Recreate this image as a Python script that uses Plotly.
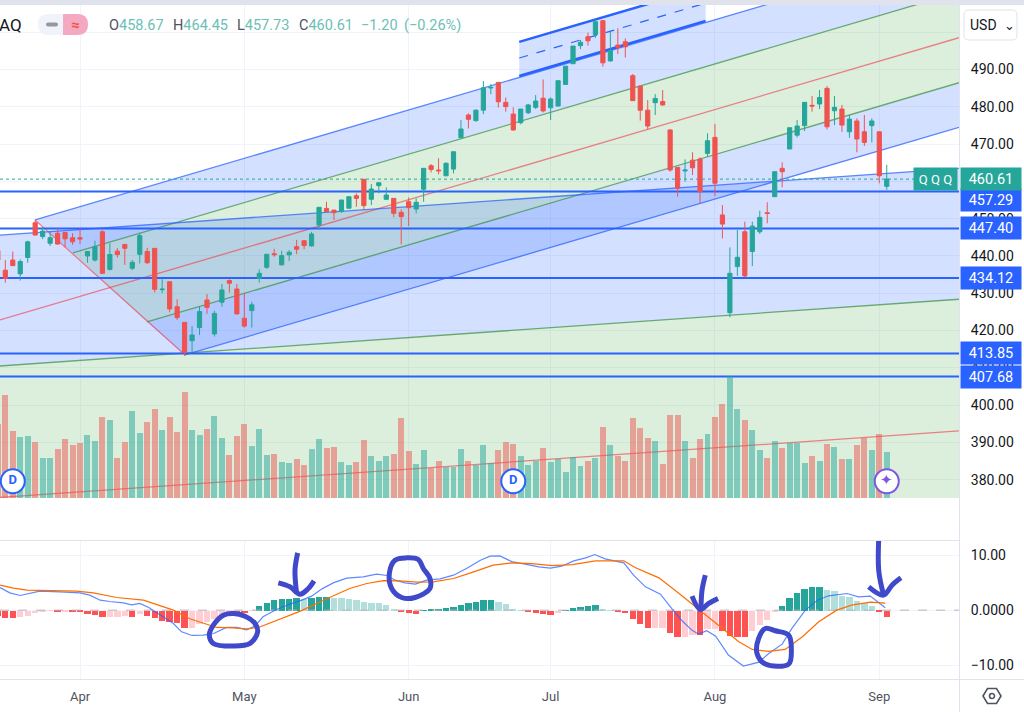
import plotly.graph_objects as go

# trading day index, 0 = 1 Apr
bar_x = list(range(-11, 109))

opens = [441.4, 436.2, 438.9, 435.2, 439.6, 448.9, 445.2, 443.4, 446.1, 446.3, 444.9, 444.9,
         440.0, 438.9, 446.5, 436.4, 441.3, 443.1, 436.7, 440.45, 441.2, 442.05, 430.95, 433.1,
         426.4, 422.2, 417.3, 420.8, 428.2, 419.1, 427.6, 433.4, 431.15, 423.3, 425.35, 434.0,
         436.95, 440.6, 437.6, 440.3, 442.5, 444.1, 442.7, 448.3, 452.75, 452.3, 451.9, 452.8,
         456.15, 460.55, 455.2, 458.85, 455.2, 455.45, 451.7, 454.55, 452.6, 457.9, 464.2, 463.05,
         461.5, 463.3, 471.7, 477.8, 476.3, 479.1, 485.05, 486.55, 481.2, 478.05, 475.75, 478.4,
         479.85, 482.3, 479.75, 480.2, 486.0, 491.55, 496.4, 498.8, 499.4, 503.1, 492.3, 496.55,
         497.45, 488.35, 485.55, 479.1, 481.1, 481.4, 473.8, 463.75, 462.8, 465.7, 466.0, 467.5,
         471.8, 451.0, 424.8, 437.15, 446.5, 441.2, 446.5, 451.6, 455.9, 463.5, 468.7, 472.4,
         474.95, 480.4, 480.75, 484.95, 478.95, 479.4, 473.3, 476.2, 473.3, 474.95, 473.3, 458.67]
highs = [442.0, 438.9, 441.2, 439.1, 444.1, 449.6, 447.7, 446.5, 447.4, 446.3, 446.1, 447.4,
         441.3, 444.1, 447.0, 443.4, 442.1, 443.1, 438.9, 446.25, 442.2, 442.05, 433.8, 433.1,
         428.4, 422.2, 421.2, 426.4, 429.8, 425.3, 432.5, 433.75, 432.5, 430.0, 427.75, 436.4,
         440.45, 441.9, 441.4, 441.6, 444.3, 444.1, 446.5, 453.05, 454.55, 452.3, 455.0, 455.9,
         456.8, 460.55, 459.3, 459.65, 458.4, 455.45, 452.5, 455.7, 455.45, 463.5, 464.65, 466.2,
         465.1, 467.95, 476.45, 478.25, 479.3, 486.9, 486.1, 486.55, 482.5, 479.85, 479.4, 480.75,
         483.15, 487.35, 482.5, 487.0, 490.9, 496.3, 497.9, 499.9, 503.45, 503.3, 500.4, 501.05,
         498.35, 488.8, 485.55, 481.8, 483.4, 484.5, 473.95, 463.75, 465.9, 467.8, 466.45, 472.9,
         475.4, 453.65, 442.3, 446.95, 449.2, 449.2, 452.15, 454.4, 462.6, 465.1, 474.4, 476.45,
         481.2, 482.9, 484.5, 485.55, 482.9, 480.5, 477.8, 476.9, 477.8, 476.9, 473.3, 464.45]
lows = [438.5, 432.85, 437.4, 433.4, 438.2, 445.6, 444.5, 442.7, 443.0, 442.3, 443.0, 443.2,
        438.2, 438.5, 435.3, 436.1, 439.6, 437.6, 436.2, 438.0, 437.85, 430.2, 430.0, 424.9,
        422.85, 413.2, 414.1, 418.8, 424.45, 418.4, 426.4, 430.2, 424.45, 420.8, 420.8, 432.85,
        436.5, 439.8, 437.6, 438.65, 440.5, 441.8, 442.5, 447.15, 451.9, 449.65, 451.6, 452.8,
        453.2, 452.3, 453.65, 456.8, 455.0, 450.4, 443.1, 448.0, 451.4, 454.55, 462.4, 461.9,
        461.5, 462.15, 471.7, 474.2, 476.0, 478.05, 483.4, 479.8, 478.7, 473.6, 475.3, 478.05,
        479.4, 478.5, 476.45, 480.2, 486.0, 491.55, 495.5, 496.4, 498.5, 490.75, 492.1, 494.15,
        493.2, 481.65, 476.3, 473.95, 477.8, 480.3, 462.6, 455.9, 459.9, 461.7, 454.1, 466.6,
        456.1, 444.7, 423.55, 434.65, 434.3, 437.3, 445.9, 448.75, 455.9, 458.4, 468.6, 471.8,
        473.5, 478.7, 479.4, 473.95, 475.1, 473.3, 471.7, 467.8, 469.5, 470.45, 459.5, 457.73]
closes = [438.9, 433.99, 437.4, 438.5, 443.8, 445.6, 446.7, 444.9, 443.2, 444.6, 443.8, 444.55,
          441.2, 442.5, 435.35, 440.4, 440.4, 442.05, 438.3, 445.45, 438.2, 431.05, 431.1, 425.8,
          423.5, 414.1, 418.8, 425.1, 426.2, 424.6, 430.9, 432.7, 424.45, 421.2, 426.9, 435.35,
          440.45, 440.35, 440.1, 441.0, 441.8, 442.8, 445.9, 453.05, 451.9, 451.6, 455.0, 455.9,
          455.45, 453.5, 457.95, 459.65, 456.35, 451.45, 450.55, 452.95, 454.4, 463.5, 463.2, 462.85,
          464.85, 467.95, 474.05, 476.65, 479.1, 485.1, 485.2, 481.35, 480.05, 473.8, 479.4, 480.5,
          481.55, 478.9, 482.1, 487.0, 490.9, 496.3, 497.3, 497.7, 502.8, 491.8, 495.05, 495.95,
          496.1, 481.65, 479.1, 474.85, 482.25, 480.5, 463.05, 458.15, 463.05, 463.65, 457.25, 470.9,
          459.5, 448.55, 435.35, 439.65, 434.65, 448.0, 450.35, 451.4, 462.6, 462.6, 474.4, 474.85,
          481.2, 480.2, 482.5, 474.65, 479.85, 475.1, 476.7, 471.35, 470.45, 476.2, 461.5, 460.61]
volumes = [55.5, 77.25, 50.25, 45.5, 46.5, 42, 30.25, 30.25, 37, 44.25, 39.75, 41.25,
           47.25, 42.75, 61, 58.25, 30.25, 42, 65.5, 48.75, 56.75, 67, 51, 60.5,
           49.5, 79.25, 50.75, 47.25, 51.5, 61.25, 45, 32.5, 46.5, 55.25, 39, 51.5,
           32.5, 33, 27.25, 26.5, 29.5, 25, 36.75, 44.25, 37.5, 38.25, 26.75, 25,
           27.25, 43.5, 31.75, 28, 31.75, 33, 59.75, 35.5, 25.75, 36.25, 22.75, 28,
           23.5, 23.5, 37, 28, 24.5, 39.75, 26.5, 36, 42, 40.5, 31.75, 25,
           28, 37.5, 27.25, 29, 19.75, 31, 24.25, 28, 30.25, 53, 39.75, 31.75,
           28, 59.75, 52.25, 45, 42.75, 25.25, 62.5, 62.5, 42.75, 30.25, 44.25, 48,
           60.5, 70.25, 91.5, 67, 58.25, 51, 36.25, 30.25, 42.75, 37.5, 41, 41,
           26, 31.75, 28, 40.5, 38.25, 29.5, 29.5, 39.75, 45, 36.25, 48, 34.75]
macd_hist = [-1.0, -1.33, -1.39, -1.2, -0.9, -0.5, -0.18, -0.06, -0.3, -0.12, -0.3, -0.32,
             -0.66, -0.72, -1.2, -1.19, -1.18, -0.97, -1.09, -0.66, -0.9, -1.39, -1.81, -2.11,
             -2.3, -3.14, -3.13, -2.4, -2.1, -1.6, -1.0, -0.25, -0.38, -0.42, -0.05, 0.8,
             1.45, 1.87, 2.05, 2.1, 2.23, 2.17, 2.3, 2.54, 2.56, 2.3, 2.29, 2.17,
             2.0, 1.5, 1.45, 1.4, 1.03, 0.36, -0.18, -0.36, -0.66, 0.1, 0.36, 0.37,
             0.54, 0.72, 1.09, 1.45, 1.63, 2.0, 2.01, 1.63, 1.27, 0.3, 0.06, -0.3,
             -0.36, -0.66, -0.7, -0.4, 0.06, 0.5, 0.66, 0.9, 1.0, 0.36, 0.03, -0.3,
             -0.5, -1.5, -2.5, -3.14, -3.13, -3.12, -4.1, -4.83, -4.82, -4.4, -4.5, -3.4,
             -3.3, -3.7, -4.6, -4.7, -4.83, -3.74, -2.66, -1.63, -0.1, 0.9, 2.3, 3.26,
             3.93, 4.29, 4.3, 3.74, 3.62, 2.66, 2.54, 1.7, 1.33, 0.9, -0.18, -1.09]

macd_x = [-10.7, -9.4, -8.0, -6.7, -5.4, -2.7, 0, 1.3, 2.7, 4.0, 5.8, 6.9, 8.0, 9.2, 10.7, 12.5,
          13.6, 15.0, 16.5, 17.9, 19.6, 21.0, 22.3, 23.4, 24.5, 26.3, 28.1, 29.7, 31.0, 32.4, 33.9,
          35.7, 37.9, 39.7, 41.1, 42.2, 43.5, 44.9, 46.4, 48.2, 50.0, 51.8, 53.6, 54.9, 56.2, 57.8,
          59.6, 61.4, 63.0, 64.5, 66.1, 67.7, 68.9, 70.3, 72.8, 74.1, 75.7, 77.7, 79.3, 80.6, 81.9,
          82.8, 83.9, 85.1, 86.8, 88.8, 90.9, 92.2, 94.0, 95.3, 97.1, 98.7, 100.2, 102.7, 104.2,
          105.8, 107.8]
macd_line = [4.11, 3.14, 2.66, 3.02, 3.44, 3.32, 3.14, 2.72, 1.81, 1.57, 1.33, 0.97, 1.21, 0.48,
             -0.91, -2.42, -3.93, -4.59, -4.53, -4.23, -3.14, -3.14, -3.56, -2.9, -1.21, 0.12, 1.09,
             1.81, 2.54, 3.86, 4.95, 5.8, 6.04, 6.52, 6.28, 5.43, 4.95, 4.71, 5.43, 5.68, 6.34, 7.61,
             9.06, 9.78, 9.84, 8.8, 8.33, 7.85, 7.61, 7.97, 8.94, 9.48, 10.08, 9.3, 8.57, 6.34, 4.23,
             2.9, 0.12, -1.93, -3.62, -4.35, -3.74, -4.71, -8.15, -10.14, -9.42, -7.85, -6.16, -3.32,
             0, 1.81, 2.6, 3.02, 2.42, 2.54, 0.42]
signal_x = [-10.7, -8.9, -7.1, -4.9, -0.5, 1.8, 4.9, 8.5, 10.3, 12.5, 14.7, 17.0, 18.3, 20.5, 22.3,
            23.9, 26.3, 29.5, 32.6, 36.1, 38.4, 40.6, 42.8, 45.1, 47.3, 50.0, 52.7, 55.3, 57.8, 60.5,
            63.2, 65.9, 69.0, 72.8, 74.3, 77.5, 80.2, 82.8, 85.5, 88.2, 90.0, 92.2, 94.4, 96.7, 98.9,
            101.3, 103.3, 105.8, 107.8]
signal_line = [4.53, 3.99, 3.62, 3.56, 3.44, 3.14, 2.29, 1.81, 1.03, 0, -1.57, -2.66, -3.14, -3.2,
               -3.38, -3.14, -1.81, -0.18, 1.81, 3.93, 4.83, 5.37, 5.31, 5.07, 5.13, 5.74, 6.94, 8.15,
               8.57, 8.45, 8.09, 8.27, 8.94, 8.94, 7.73, 5.86, 3.02, 0.18, -2.72, -5.74, -7.13, -7.49,
               -7.13, -4.83, -2.11, 0, 0.91, 1.45, 1.27]

month_ticks = [0, 22, 44, 63, 85, 107]
month_labels = ['Apr', 'May', 'Jun', 'Jul', 'Aug', 'Sep']
price_ticks = [380, 390, 400, 410, 420, 430, 440, 450, 460, 470, 480, 490, 500]
price_labels = ['380.00', '390.00', '400.00', '410.00', '420.00', '430.00', '440.00', '450.00',
                '460.00', '470.00', '480.00', '490.00', '']
macd_ticks = [-10, 0, 10]
macd_labels = ['\u221210.00', '0.0000', '10.00']

level_prices = [457.29, 447.40, 434.12, 413.85, 407.68]
last_price = 460.61
dividend_x = [-9, 58]
dividend_y = [379.6, 379.6]
event_x = [108]
event_y = [379.6]

# drawings, as bar index / price
x_left, x_right = -10.71, 117.67
price_min, price_max = 375.1, 507.3
fork_top = ([-6.02, 117.67, 117.67, -0.94], [449.65, 522.6, 510.75, 440.8])
fork_up = ([-0.94, 117.67, 117.67, 4.02], [440.8, 510.75, 498.53, 431.55])
fork_down = ([4.02, 117.67, 117.67, 8.97], [431.55, 498.53, 486.46, 422.3])
fork_bottom = ([8.97, 117.67, 117.67, 14.06], [422.3, 486.46, 474.5, 413.46])
handle = ([-6.02, 14.06], [449.65, 413.46])
fork_median = ([-10.71, 117.67], [422.84, 498.53])
fan_top = ([x_left, x_right], [445.6, 463.5])
fan_mid = ([x_left, x_right], [410.5, 428.4])
fan_low = ([x_left, x_right], [375.25, 393.1])
channel_x = [58.8, 83.75]
channel_top = [497.4, 512.1]
channel_mid = [493.08, 507.8]
channel_low = [488.26, 503.0]

# hand drawn marks on the MACD pane, bar index / MACD value
circle_a = ([17.85, 17.31, 17.85, 20.53, 22.76, 23.78, 23.43, 22.09, 20.53, 19.19, 17.85],
            [-2.72, -4.53, -6.04, -6.52, -6.04, -3.93, -2.42, -1.09, -0.6, -0.91, -2.72])
circle_b = ([42.17, 41.41, 41.72, 43.06, 44.85, 46.85, 46.85, 45.96, 45.29, 43.73, 42.17],
            [9.06, 6.64, 3.93, 2.29, 2.29, 3.93, 5.74, 7.55, 9.18, 9.48, 9.06])
circle_c = ([90.85, 90.63, 91.75, 94.87, 95.23, 94.87, 93.08, 91.75, 90.85],
            [-5.13, -7.85, -9.78, -9.78, -7.25, -4.53, -3.74, -3.32, -5.13])
arrow_a = ([29.14, 28.78, 29.0, None, 26.55, 28.11, 29.45, 30.57, 31.33],
           [10.39, 7.25, 3.02, None, 4.95, 4.23, 2.9, 3.93, 5.31])
arrow_b = ([83.71, 83.27, 83.13, None, 81.93, 83.04, 84.16, 85.41],
           [6.34, 3.62, 0.12, None, 2.54, 0.12, 1.21, 2.11])
arrow_c = ([106.96, 106.92, 107.58, None, 105.58, 107.58, 108.7, 109.9],
           [14.0, 7.25, 2.72, None, 4.23, 2.72, 4.53, 5.86])

GREEN = '#26a69a'
RED = '#ef5350'
BLUE = '#2962ff'
GRID = '#f0f3fa'
BORDER = '#e0e3eb'
FILL_BLUE = 'rgba(41,98,255,0.2)'
FILL_GREEN = 'rgba(76,175,80,0.2)'
INK = '#3f49c9'
FONT = 'Roboto'

W, H = 1024, 712


def band(pts, color):
    return go.Scatter(x=pts[0], y=pts[1], mode='none', fill='toself', fillcolor=color,
                      hoverinfo='skip', showlegend=False, xaxis='x', yaxis='y')


def line(pts, color, width=1.3, dash='solid', axis='y', xaxis='x'):
    return go.Scatter(x=pts[0], y=pts[1], mode='lines', line=dict(color=color, width=width, dash=dash),
                      hoverinfo='skip', showlegend=False, xaxis=xaxis, yaxis=axis, cliponaxis=True)


def hist_color(i):
    prev = macd_hist[i - 1] if i else 0
    v = macd_hist[i]
    if v >= 0:
        return GREEN if v > prev else '#b2dfdb'
    return '#ff5252' if v < prev else '#ffcdd2'


fig = go.Figure()

for pts, color in [(fork_top, FILL_BLUE), (fork_up, FILL_GREEN), (fork_down, FILL_GREEN), (fork_bottom, FILL_BLUE)]:
    fig.add_trace(band(pts, color))
fig.add_trace(band(([x_left, x_right, x_right, x_left], fan_top[1] + fan_mid[1][::-1]), FILL_BLUE))
fig.add_trace(band(([x_left, x_right, x_right, x_left], fan_mid[1] + [price_min, price_min]), FILL_GREEN))
fig.add_trace(band(([channel_x[0], channel_x[1], channel_x[1], channel_x[0]],
                    [channel_top[0], channel_top[1], channel_low[1], channel_low[0]]), FILL_BLUE))

blue_line = 'rgba(41,98,255,0.75)'
green_line = 'rgba(56,142,60,0.7)'
red_line = 'rgba(242,54,69,0.6)'
fig.add_trace(line((fork_top[0][:2], fork_top[1][:2]), blue_line))
fig.add_trace(line((fork_up[0][:2], fork_up[1][:2]), green_line))
fig.add_trace(line(fork_median, red_line))
fig.add_trace(line((fork_bottom[0][:2], fork_bottom[1][:2]), green_line))
fig.add_trace(line(([fork_bottom[0][3], fork_bottom[0][2]], [fork_bottom[1][3], fork_bottom[1][2]]), blue_line))
fig.add_trace(line(handle, red_line))
fig.add_trace(line(fan_top, blue_line))
fig.add_trace(line(fan_mid, green_line))
fig.add_trace(line(fan_low, red_line))
fig.add_trace(line((channel_x, channel_top), BLUE, 2.5))
fig.add_trace(line((channel_x, channel_low), BLUE, 2.5))
fig.add_trace(line((channel_x, channel_mid), BLUE, 1.2, 'dash'))
fig.add_trace(line(([x_left, x_right], [last_price, last_price]), GREEN, 1, 'dot'))
for p in level_prices:
    fig.add_trace(line(([x_left, x_right], [p, p]), BLUE, 2))

fig.add_trace(go.Bar(x=bar_x, y=volumes, width=0.8, xaxis='x', yaxis='y2', showlegend=False,
                     marker=dict(color=[GREEN if c >= o else RED for o, c in zip(opens, closes)],
                                 opacity=0.5, line_width=0), hoverinfo='skip'))
fig.add_trace(go.Candlestick(x=bar_x, open=opens, high=highs, low=lows, close=closes,
                             xaxis='x', yaxis='y3', showlegend=False, whiskerwidth=0,
                             increasing=dict(line=dict(color=GREEN, width=1), fillcolor=GREEN),
                             decreasing=dict(line=dict(color=RED, width=1), fillcolor=RED)))
fig.add_trace(go.Scatter(x=dividend_x, y=dividend_y, mode='markers+text', text=['<b>D</b>', '<b>D</b>'],
                         textfont=dict(color=BLUE, size=13, family=FONT), textposition='middle center',
                         marker=dict(size=24, color='white', line=dict(color=BLUE, width=2)),
                         xaxis='x', yaxis='y3', showlegend=False, cliponaxis=False))
fig.add_trace(go.Scatter(x=event_x, y=event_y, mode='markers+text', text=['\u2726'],
                         textfont=dict(color='#7e57e0', size=15), textposition='middle center',
                         marker=dict(size=24, color='white', line=dict(color='#7e57e0', width=2)),
                         xaxis='x', yaxis='y3', showlegend=False, cliponaxis=False))

# MACD pane
fig.add_trace(line(([x_left, x_right], [0, 0]), '#b2b5be', 1, 'dash', 'y4', 'x2'))
fig.add_trace(go.Bar(x=bar_x, y=macd_hist, width=0.85, xaxis='x2', yaxis='y4', showlegend=False,
                     marker=dict(color=[hist_color(i) for i in range(len(macd_hist))], line_width=0),
                     hoverinfo='skip'))
fig.add_trace(line((macd_x, macd_line), 'rgba(41,98,255,0.75)', 1.2, 'solid', 'y4', 'x2'))
fig.add_trace(line((signal_x, signal_line), '#ff6d00', 1.2, 'solid', 'y4', 'x2'))
for mark in [circle_a, circle_b, circle_c, arrow_a, arrow_b, arrow_c]:
    t = line(mark, INK, 5, 'solid', 'y4', 'x2')
    t.update(cliponaxis=False, connectgaps=False)
    t.line.shape = 'spline'
    fig.add_trace(t)

domain_x = [0, 959 / W]
main_y = [(H - 498) / H, (H - 5) / H]
macd_y = [(H - 679.3) / H, (H - 540.5) / H]
tick_font = dict(family=FONT, size=14, color='#131722')
fig.update_layout(
    width=W, height=H, margin=dict(l=0, r=0, t=0, b=0),
    paper_bgcolor='white', plot_bgcolor='white', showlegend=False,
    boxgap=0.2, bargap=0,
    xaxis=dict(domain=domain_x, range=[x_left, x_right], tickvals=month_ticks, ticktext=[''] * 6,
               showgrid=True, gridcolor=GRID, zeroline=False, rangeslider=dict(visible=False),
               showline=False, ticks=''),
    yaxis=dict(domain=main_y, range=[price_min, price_max], side='right', anchor='x', tickvals=price_ticks,
               ticktext=price_labels, tickfont=tick_font, showgrid=True, gridcolor=GRID, zeroline=False,
               ticks='outside', ticklen=8, tickcolor='rgba(0,0,0,0)'),
    yaxis2=dict(domain=main_y, range=[0, 369.75], overlaying='y', visible=False),
    yaxis3=dict(domain=main_y, range=[price_min, price_max], overlaying='y', visible=False),
    xaxis2=dict(domain=domain_x, range=[x_left, x_right], anchor='y4', tickvals=month_ticks, ticktext=month_labels,
                tickfont=dict(family=FONT, size=13, color='#50535e'), showgrid=True, gridcolor=GRID,
                zeroline=False, ticks='outside', ticklen=5, tickcolor='rgba(0,0,0,0)'),
    yaxis4=dict(domain=macd_y, range=[-12.54, 12.63], anchor='x2', side='right', tickvals=macd_ticks,
                ticktext=macd_labels, tickfont=tick_font, showgrid=True, gridcolor=GRID, zeroline=False,
                ticks='outside', ticklen=8, tickcolor='rgba(0,0,0,0)'),
)


def paper_x(px):
    return px / W


def paper_y(py):
    return 1 - py / H


def frame(x0, y0, x1, y1, color=BORDER, width=1):
    fig.add_shape(type='line', xref='paper', yref='paper', x0=paper_x(x0), y0=paper_y(y0), x1=paper_x(x1),
                  y1=paper_y(y1), line=dict(color=color, width=width))


# top strip and pane borders
fig.add_shape(type='rect', xref='paper', yref='paper', x0=0, x1=1, y0=paper_y(5), y1=1,
              fillcolor=BORDER, line_width=0)
frame(0, 540.5, 959, 540.5)
frame(0, 679.5, 1024, 679.5)
frame(959.5, 5, 959.5, 712)


def rounded(x0, y0, x1, y1, r, **kw):
    # rounded box in paper pixels
    fx, fy = paper_x, paper_y
    path = (f'M {fx(x0 + r)} {fy(y0)} L {fx(x1 - r)} {fy(y0)} Q {fx(x1)} {fy(y0)} {fx(x1)} {fy(y0 + r)} '
            f'L {fx(x1)} {fy(y1 - r)} Q {fx(x1)} {fy(y1)} {fx(x1 - r)} {fy(y1)} '
            f'L {fx(x0 + r)} {fy(y1)} Q {fx(x0)} {fy(y1)} {fx(x0)} {fy(y1 - r)} '
            f'L {fx(x0)} {fy(y0 + r)} Q {fx(x0)} {fy(y0)} {fx(x0 + r)} {fy(y0)} Z')
    fig.add_shape(type='path', xref='paper', yref='paper', path=path, **kw)


# header pill
rounded(38, 14, 88, 35, 10, fillcolor='#f0f3fa', line_width=0)
fig.add_shape(type='path', xref='paper', yref='paper', line_width=0, fillcolor='#f5a9c0',
              path=(f'M {paper_x(63)} {paper_y(14)} L {paper_x(78)} {paper_y(14)} '
                    f'Q {paper_x(88)} {paper_y(14)} {paper_x(88)} {paper_y(24.5)} '
                    f'Q {paper_x(88)} {paper_y(35)} {paper_x(78)} {paper_y(35)} L {paper_x(63)} {paper_y(35)} Z'))
rounded(46, 22.5, 58, 26.5, 2, fillcolor='#9598a1', line_width=0)
# USD button
rounded(964, 10, 1017, 40, 5, fillcolor='white', line=dict(color=BORDER, width=1))


def note(px, py, text, size=14, color='#131722', anchor='left', **kw):
    fig.add_annotation(xref='paper', yref='paper', x=paper_x(px), y=paper_y(py), text=text, showarrow=False,
                       xanchor=anchor, yanchor='middle', font=dict(family=FONT, size=size, color=color), **kw)


def val(s):
    return f'<span style="color:#6cc0b6">{s}</span>'


note(-3, 24.5, 'AQ', size=17)
note(75, 24.5, '<b>\u2248</b>', size=15, color='#ef5350', anchor='center')
for px, letter, number in [(107, 'O', '458.67'), (171, 'H', '464.45'), (235, 'L', '457.73'), (297, 'C', '460.61')]:
    note(px, 25, letter + val(number), size=14.5, color='#50535e')
note(359, 25, val('\u22121.20'), size=14.5)
note(402, 25, val('(\u22120.26%)'), size=14.5)
note(968, 25.5, 'USD', size=14)
note(1009, 25.5, '\u2304', size=13, anchor='center')

# price tags on the axis, the 457.29 tag sits pushed below the last price tag
for p in level_prices + [last_price]:
    fig.add_annotation(xref='paper', yref='y', x=paper_x(960), y=p, text=f'{p:.2f}', showarrow=False,
                       xanchor='left', yanchor='middle', width=58, height=20, align='center',
                       yshift=-8.5 if p == 457.29 else 0,
                       bgcolor=GREEN if p == last_price else BLUE,
                       font=dict(family=FONT, size=14.5, color='white'))
fig.add_annotation(xref='paper', yref='y', x=paper_x(958), y=last_price, text='Q Q Q', showarrow=False,
                   xanchor='right', yanchor='middle', width=41, height=20, align='center', bgcolor=GREEN,
                   font=dict(family=FONT, size=13, color='white'))

# settings icon
fig.add_shape(type='path', xref='paper', yref='paper', line=dict(color='#50535e', width=1.6),
              path=' '.join(f'{c} {paper_x(x)} {paper_y(y)}' for c, x, y in
                            [('M', 983, 696), ('L', 987.5, 688.5), ('L', 996.5, 688.5), ('L', 1001, 696),
                             ('L', 996.5, 703.5), ('L', 987.5, 703.5)]) + ' Z')
fig.add_shape(type='circle', xref='paper', yref='paper', x0=paper_x(989.5), x1=paper_x(994.5), y0=paper_y(698.5),
              y1=paper_y(693.5), line=dict(color='#50535e', width=1.6))

# page margin off so the chart fills the 1024x712 window
fig.write_html("out.html", config={'displayModeBar': False}, post_script="document.body.style.margin='0';")
